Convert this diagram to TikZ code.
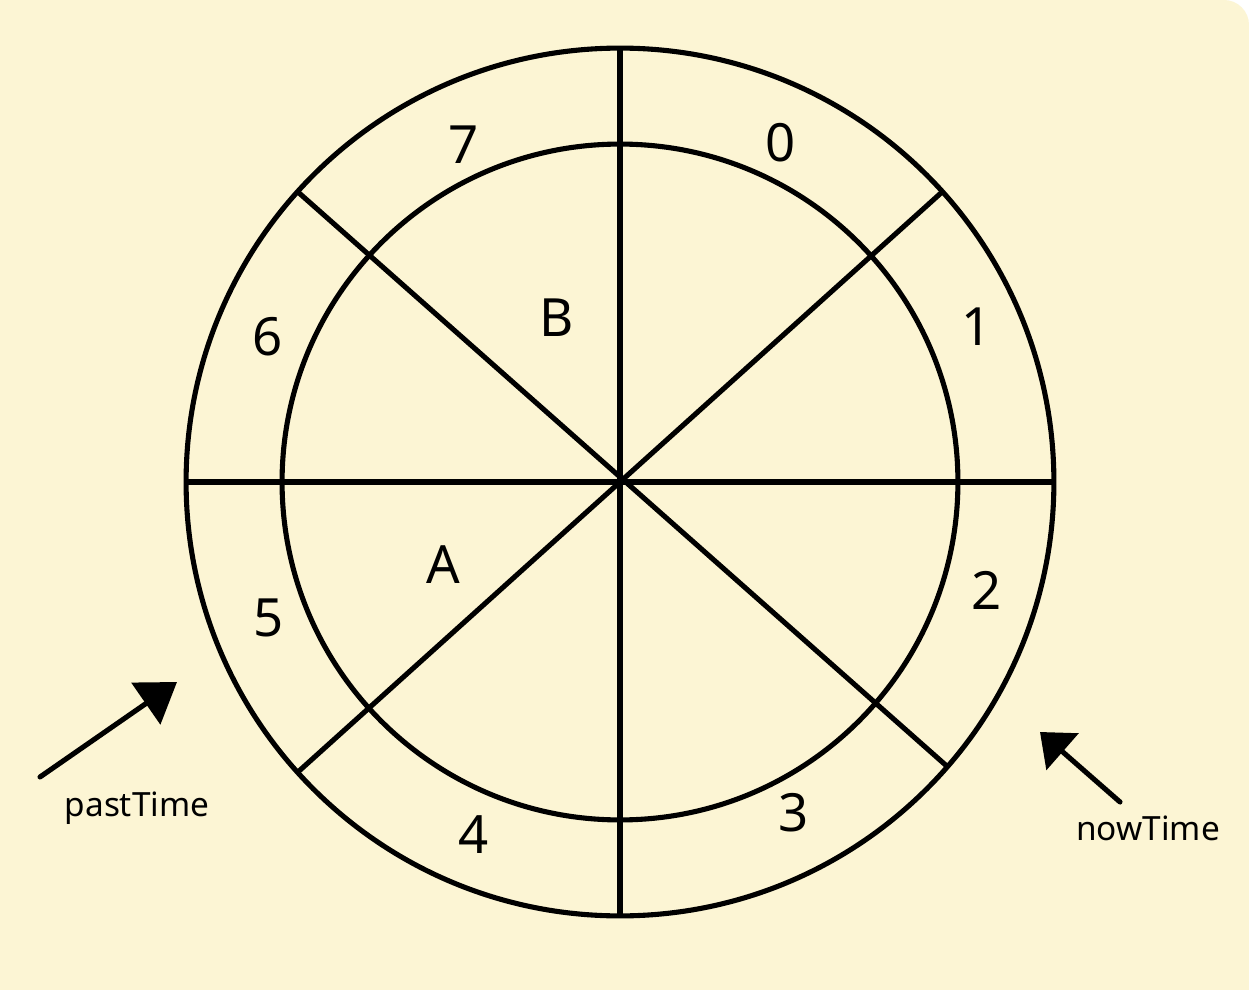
\documentclass[tikz,border=0pt]{standalone}
\usepackage{fontspec}
\setmainfont{Noto Sans}
\usetikzlibrary{arrows.meta}
\definecolor{paper}{HTML}{FCF5D4}
\tikzset{
  ink/.style={line width=2.9pt, draw=black},
  ring/.style={circle, ink, outer sep=0pt, inner sep=0pt},
  digit/.style={font=\fontsize{30}{32}\selectfont, inner sep=0pt},
  tag/.style={font=\fontsize{19}{21}\selectfont, inner sep=0pt},
  pointer/.style={ink, line cap=round}
}
\begin{document}
\begin{tikzpicture}[x=0.02cm, y=-0.02cm]
\useasboundingbox (0,0) rectangle (1249,990);
\fill[white] (0,0) rectangle (1249,990);
\fill[paper] (0,990) -- (0,0) [rounded corners=0.5cm] -- (1249,0) [sharp corners] -- (1249,990) -- cycle;

\node[ring, minimum size=17.36cm] (outer) at (620,482) {};
\node[ring, minimum size=13.52cm] (inner) at (620,482) {};
\coordinate (c) at (620,482);

\draw[ink] (outer.90) -- (outer.270);
\draw[ink] (outer.180) -- (outer.0);
\draw[ink] (outer.138.5) -- (outer.-41.4);
\draw[ink] (outer.42.2) -- (outer.222.3);

\node[digit] (d7) at (464,145) {7};
\node[digit] (d0) at (781,143) {0};
\node[digit] (d1) at (977,327) {1};
\node[digit] (d6) at (268,337) {6};
\node[digit] (d2) at (987,590) {2};
\node[digit] (d5) at (269,618) {5};
\node[digit] (d4) at (474,835) {4};
\node[digit] (d3) at (794,813) {3};
\node[digit] (lB) at (557,318) {B};
\node[digit] (lA) at (443,565) {A};

\node[tag] (past) at (137,808) {pastTime};
\node[tag] (now) at (1148,828) {nowTime};

\coordinate (ps) at (40,777);
\coordinate (pt) at (177,682);
\coordinate (ns) at (1120,802);
\coordinate (nt) at (1040,732);
\draw[pointer, -{Triangle[length=0.76cm, width=1.0cm]}] (ps) -- (pt);
\draw[pointer, -{Triangle[length=0.6cm, width=0.96cm]}] (ns) -- (nt);
\end{tikzpicture}
\end{document}
